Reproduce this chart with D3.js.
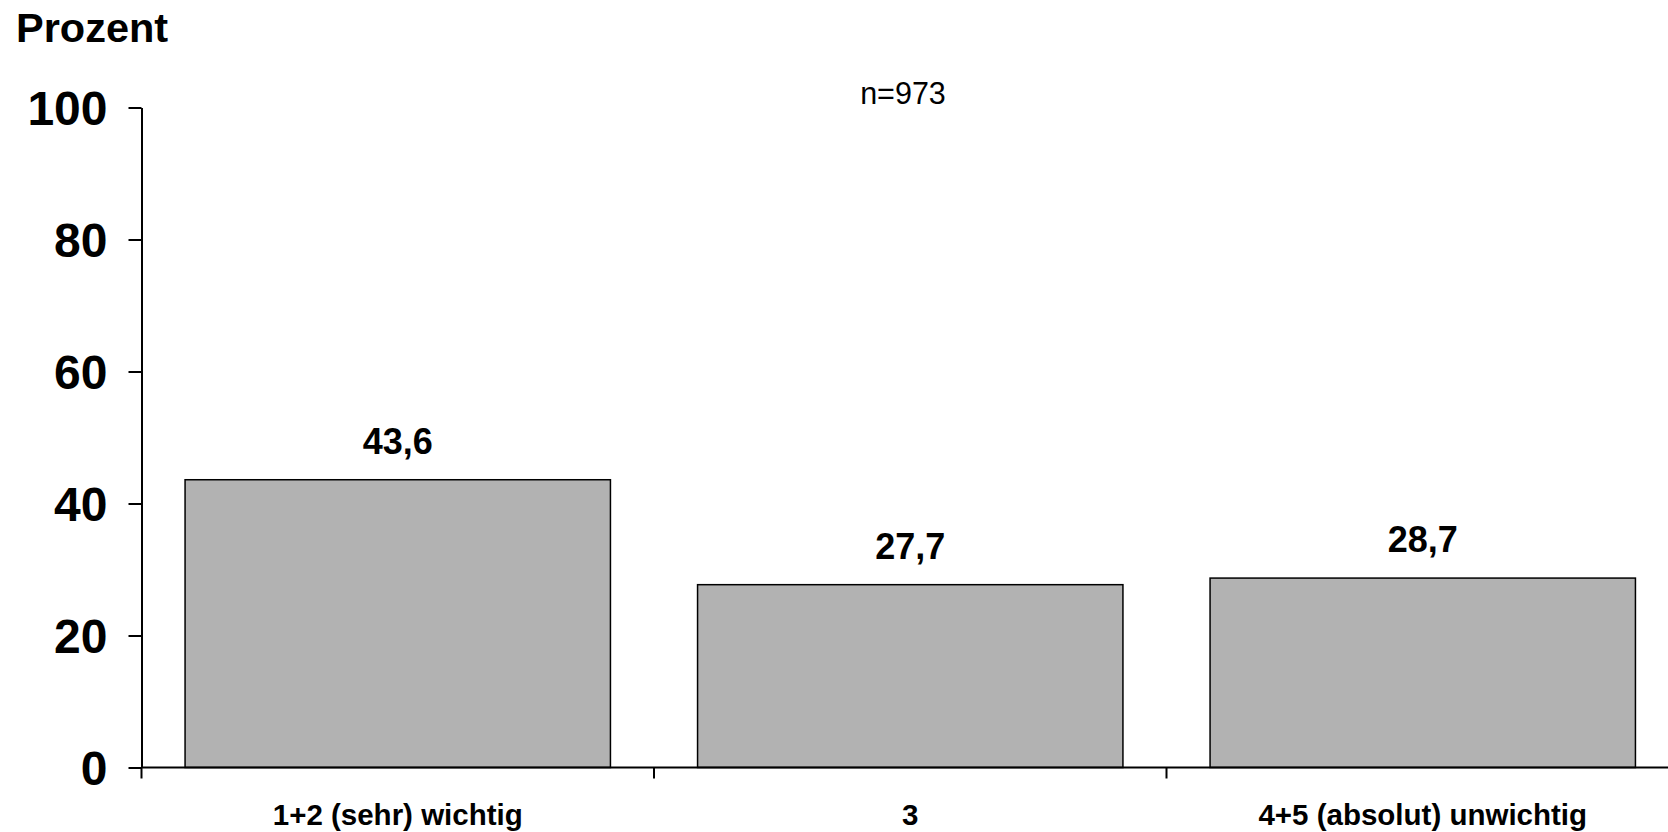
<!DOCTYPE html>
<html>
<head>
<meta charset="utf-8">
<script src="https://cdn.jsdelivr.net/npm/d3@7"></script>
<style>
  html, body { margin: 0; padding: 0; background: #fff; }
  svg { display: block; font-family: "Liberation Sans", Arial, sans-serif; }
</style>
</head>
<body>
<svg id="chart" width="1668" height="832"></svg>
<script>
const categories = ["1+2 (sehr) wichtig", "3", "4+5 (absolut) unwichtig"];
const values = [43.6, 27.7, 28.7];
const valueLabels = ["43,6", "27,7", "28,7"];
const yTicks = [0, 20, 40, 60, 80, 100];
const yTitle = "Prozent";
const note = "n=973";

const svg = d3.select("#chart");
const x0 = 141.5, x1 = 1679, yTop = 107.5, yBottom = 767.5;

const x = d3.scaleBand().domain(categories).range([x0, x1])
  .paddingInner(0.17).paddingOuter(0.085);
const y = d3.scaleLinear().domain([0, 100]).range([yBottom, yTop]);

// bars
svg.append("g").selectAll("rect").data(values).join("rect")
  .attr("x", (d, i) => x(categories[i]))
  .attr("y", d => y(d))
  .attr("width", x.bandwidth())
  .attr("height", d => y(0) - y(d))
  .attr("fill", "#b2b2b2")
  .attr("stroke", "#000")
  .attr("stroke-width", 1.5);

// value labels
svg.append("g").selectAll("text").data(values).join("text")
  .attr("x", (d, i) => x(categories[i]) + x.bandwidth() / 2)
  .attr("y", d => y(d) - 26)
  .attr("text-anchor", "middle")
  .attr("font-size", 36)
  .attr("font-weight", "bold")
  .attr("fill", "#000")
  .text((d, i) => valueLabels[i]);

// y axis
const yAxis = d3.axisLeft(y).tickValues(yTicks).tickSize(13).tickSizeOuter(0).tickPadding(21);
const gy = svg.append("g").attr("transform", `translate(${x0},0)`).call(yAxis);
gy.select(".domain").attr("stroke", "#000").attr("stroke-width", 2);
gy.selectAll(".tick line").attr("stroke", "#000").attr("stroke-width", 2);
gy.selectAll(".tick text")
  .attr("font-size", 48).attr("font-weight", "bold")
  .attr("font-family", "'Liberation Sans', Arial, sans-serif")
  .attr("fill", "#000").attr("dy", "0.36em");

// x axis baseline
svg.append("line")
  .attr("x1", x0).attr("x2", x1)
  .attr("y1", y(0)).attr("y2", y(0))
  .attr("stroke", "#000").attr("stroke-width", 2);

// category boundary ticks
const boundaries = categories.map(c => x(c) - x.step() * x.paddingOuter());
svg.append("g").selectAll("line").data(boundaries).join("line")
  .attr("x1", d => d).attr("x2", d => d)
  .attr("y1", y(0)).attr("y2", y(0) + 11)
  .attr("stroke", "#000").attr("stroke-width", 2);

// category labels
const xAxis = d3.axisBottom(x).tickSize(0).tickPadding(0);
const gx = svg.append("g").attr("transform", `translate(0,${yBottom})`).call(xAxis);
gx.select(".domain").remove();
gx.selectAll(".tick text")
  .attr("y", 57).attr("dy", 0)
  .attr("font-size", 29.5).attr("font-weight", "bold")
  .attr("font-family", "'Liberation Sans', Arial, sans-serif")
  .attr("fill", "#000");

// title
svg.append("text")
  .attr("x", 16).attr("y", 42)
  .attr("font-size", 41.5).attr("font-weight", "bold")
  .attr("fill", "#000")
  .text(yTitle);

// n note
svg.append("text")
  .attr("x", 903).attr("y", 104)
  .attr("text-anchor", "middle")
  .attr("font-size", 30.5)
  .attr("fill", "#000")
  .text(note);
</script>
</body>
</html>
